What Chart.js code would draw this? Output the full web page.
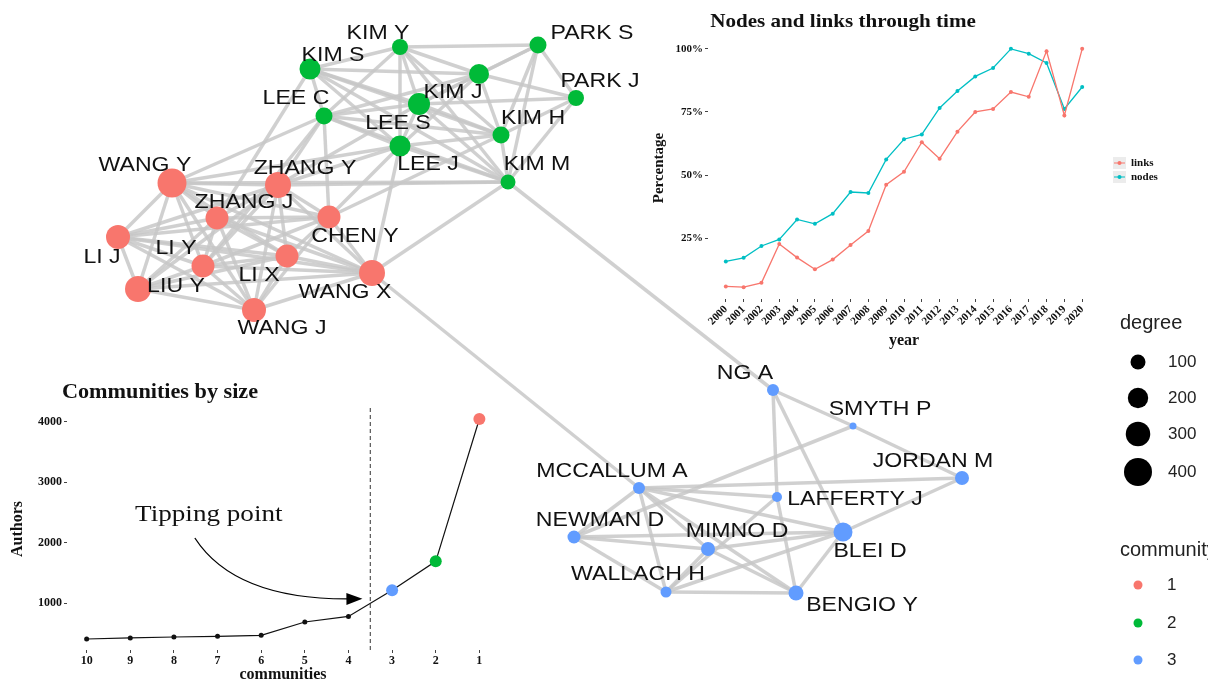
<!DOCTYPE html>
<html>
<head>
<meta charset="utf-8">
<script src="https://cdn.jsdelivr.net/npm/chart.js@4.4.0/dist/chart.umd.min.js"></script>
<style>
  body { margin: 0; background: #fff; }
  #wrap { position: relative; width: 1208px; height: 682px; overflow: hidden; }
  canvas { position: absolute; }
</style>
</head>
<body>
<div id="wrap">
  <canvas id="net" width="1208" height="682" style="left:0;top:0"></canvas>
  <canvas id="time" width="530" height="350" style="left:640px;top:0"></canvas>
  <canvas id="comm" width="505" height="314" style="left:0;top:370px"></canvas>
</div>
<script>
// --- réseau de co-auteurs (layout)
const nodeNames = ['KIM Y', 'PARK S', 'KIM S', 'KIM J', 'PARK J', 'LEE C', 'LEE S', 'KIM H', 'LEE J', 'KIM M',
  'WANG Y', 'ZHANG Y', 'ZHANG J', 'CHEN Y', 'LI J', 'LI X', 'LI Y', 'LIU Y', 'WANG X', 'WANG J',
  'NG A', 'SMYTH P', 'JORDAN M', 'MCCALLUM A', 'LAFFERTY J', 'NEWMAN D', 'MIMNO D', 'BLEI D', 'WALLACH H', 'BENGIO Y'];
const nodeX = [400, 538, 310, 479, 576, 324, 419, 501, 400, 508,
  172, 278, 217, 329, 118, 287, 203, 138, 372, 254,
  773, 853, 962, 639, 777, 574, 708, 843, 666, 796];
const nodeY = [47, 45, 69, 74, 98, 116, 104, 135, 146, 182,
  183, 185, 218, 217, 237, 256, 266, 289, 273, 310,
  390, 426, 478, 488, 497, 537, 549, 532, 592, 593];
const nodeDegree = [116, 133, 214, 192, 116, 133, 237, 133, 214, 100,
  430, 340, 260, 260, 286, 260, 260, 340, 340, 286,
  59, 15, 85, 59, 38, 72, 85, 171, 48, 100];
const nodeCommunity = [2, 2, 2, 2, 2, 2, 2, 2, 2, 2,
  1, 1, 1, 1, 1, 1, 1, 1, 1, 1,
  3, 3, 3, 3, 3, 3, 3, 3, 3, 3];

const edges = [
  // communauté 2
  ['KIM Y', 'PARK S'], ['KIM Y', 'KIM S'], ['KIM Y', 'KIM J'], ['KIM Y', 'LEE C'], ['KIM Y', 'LEE S'],
  ['KIM Y', 'KIM H'], ['KIM Y', 'LEE J'], ['KIM Y', 'KIM M'], ['PARK S', 'KIM J'], ['PARK S', 'PARK J'],
  ['PARK S', 'LEE S'], ['PARK S', 'KIM H'], ['PARK S', 'KIM M'], ['KIM S', 'KIM J'], ['KIM S', 'LEE C'],
  ['KIM S', 'LEE S'], ['KIM S', 'KIM H'], ['KIM S', 'LEE J'], ['KIM S', 'KIM M'], ['KIM J', 'PARK J'],
  ['KIM J', 'LEE S'], ['KIM J', 'KIM H'], ['KIM J', 'LEE J'], ['KIM J', 'LEE C'], ['PARK J', 'LEE S'],
  ['PARK J', 'KIM H'], ['PARK J', 'KIM M'], ['LEE C', 'LEE S'], ['LEE C', 'LEE J'], ['LEE C', 'KIM H'],
  ['LEE C', 'KIM M'], ['LEE S', 'KIM H'], ['LEE S', 'LEE J'], ['LEE S', 'KIM M'], ['KIM H', 'LEE J'],
  ['KIM H', 'KIM M'], ['LEE J', 'KIM M'],
  // communauté 1
  ['WANG Y', 'ZHANG Y'], ['WANG Y', 'ZHANG J'], ['WANG Y', 'CHEN Y'], ['WANG Y', 'LI J'], ['WANG Y', 'LI X'],
  ['WANG Y', 'LI Y'], ['WANG Y', 'LIU Y'], ['WANG Y', 'WANG X'], ['WANG Y', 'WANG J'],
  ['ZHANG Y', 'ZHANG J'], ['ZHANG Y', 'CHEN Y'], ['ZHANG Y', 'LI J'], ['ZHANG Y', 'LI X'], ['ZHANG Y', 'LI Y'],
  ['ZHANG Y', 'LIU Y'], ['ZHANG Y', 'WANG X'], ['ZHANG Y', 'WANG J'],
  ['ZHANG J', 'CHEN Y'], ['ZHANG J', 'LI J'], ['ZHANG J', 'LI X'], ['ZHANG J', 'LI Y'], ['ZHANG J', 'LIU Y'],
  ['ZHANG J', 'WANG X'], ['ZHANG J', 'WANG J'],
  ['CHEN Y', 'LI J'], ['CHEN Y', 'LI X'], ['CHEN Y', 'LI Y'], ['CHEN Y', 'WANG X'], ['CHEN Y', 'WANG J'],
  ['LI J', 'LI X'], ['LI J', 'LI Y'], ['LI J', 'LIU Y'], ['LI J', 'WANG X'], ['LI J', 'WANG J'],
  ['LI X', 'LI Y'], ['LI X', 'LIU Y'], ['LI X', 'WANG X'], ['LI X', 'WANG J'],
  ['LI Y', 'LIU Y'], ['LI Y', 'WANG X'], ['LI Y', 'WANG J'], ['LIU Y', 'WANG X'], ['LIU Y', 'WANG J'],
  ['WANG X', 'WANG J'],
  // liens 1-2
  ['WANG Y', 'LEE C'], ['WANG Y', 'KIM M'], ['WANG Y', 'LEE J'], ['ZHANG Y', 'LEE C'], ['ZHANG Y', 'LEE J'],
  ['ZHANG Y', 'KIM M'], ['ZHANG Y', 'LEE S'], ['CHEN Y', 'LEE J'], ['CHEN Y', 'LEE C'], ['CHEN Y', 'KIM H'],
  ['WANG X', 'KIM M'], ['WANG X', 'LEE J'], ['ZHANG J', 'KIM S'], ['LI Y', 'LEE C'],
  // communauté 3
  ['NG A', 'SMYTH P'], ['NG A', 'LAFFERTY J'], ['NG A', 'BLEI D'], ['SMYTH P', 'JORDAN M'], ['SMYTH P', 'NEWMAN D'],
  ['JORDAN M', 'BLEI D'], ['JORDAN M', 'MCCALLUM A'], ['MCCALLUM A', 'LAFFERTY J'], ['MCCALLUM A', 'BLEI D'],
  ['MCCALLUM A', 'NEWMAN D'], ['MCCALLUM A', 'WALLACH H'], ['MCCALLUM A', 'BENGIO Y'], ['MCCALLUM A', 'MIMNO D'],
  ['LAFFERTY J', 'BENGIO Y'], ['LAFFERTY J', 'WALLACH H'], ['NEWMAN D', 'BLEI D'], ['NEWMAN D', 'WALLACH H'],
  ['NEWMAN D', 'MIMNO D'], ['MIMNO D', 'BLEI D'], ['MIMNO D', 'BENGIO Y'], ['MIMNO D', 'WALLACH H'],
  ['WALLACH H', 'BLEI D'], ['WALLACH H', 'BENGIO Y'], ['BLEI D', 'BENGIO Y'],
  // ponts
  ['WANG X', 'MCCALLUM A'], ['KIM M', 'NG A']
];

// position des étiquettes par rapport au noeud
const labelDx = [-22, 54, 23, -26, 24, -28, -21, 32, 28, 29,
  -27, 27, 27, 26, -16, -28, -27, 38, -27, 28,
  -28, 27, -29, -27, 78, 26, 29, 27, -28, 66];
const labelDy = [-14, -12, -14, 18, -17, -18, 19, -17, 18, -18,
  -18, -17, -16, 19, 20, 19, -18, -3, 19, 18,
  -17, -17, -17, -17, 2, -17, -18, 19, -18, 12];

const communityColors = ['#F8766D', '#00BA38', '#619CFF'];
const degreeBreaks = [100, 200, 300, 400];
const communityLevels = [1, 2, 3];

// --- noeuds et liens dans le temps
const years = [2000, 2001, 2002, 2003, 2004, 2005, 2006, 2007, 2008, 2009, 2010,
  2011, 2012, 2013, 2014, 2015, 2016, 2017, 2018, 2019, 2020];
const linksPct = [5.9, 5.6, 7.3, 22.7, 17.3, 12.7, 16.5, 22.3, 27.8, 46.2, 51.3,
  63.0, 56.5, 67.2, 75.0, 76.2, 82.9, 81.0, 99.1, 73.6, 100];
const nodesPct = [15.8, 17.2, 21.9, 24.5, 32.4, 30.7, 34.7, 43.3, 42.9, 56.2, 64.2,
  66.1, 76.6, 83.3, 89.1, 92.4, 100, 98.1, 94.4, 76.2, 84.9];
const pctTicks = [25, 50, 75, 100];

// --- communautés par taille
const communityRank = [10, 9, 8, 7, 6, 5, 4, 3, 2, 1];
const communityAuthors = [408, 425, 441, 452, 468, 688, 781, 1214, 1690, 4041];
const authorTicks = [1000, 2000, 3000, 4000];
const tippingPoint = 3.5;

const serif = '"Liberation Serif", "Times New Roman", serif';
const sans = '"Liberation Sans", Arial, sans-serif';

function rayon(deg) {
  return 1 + 0.65 * Math.sqrt(deg);
}

function idx(name) {
  return nodeNames.indexOf(name);
}

// texte un peu étiré en largeur, comme sur l'original
function texteEtire(ctx, txt, x, y, sx) {
  ctx.save();
  ctx.translate(x, y);
  ctx.scale(sx, 1);
  ctx.fillText(txt, 0, 0);
  ctx.restore();
}

// ===================== réseau =====================
const edgeSets = edges.map(e => ({
  type: 'scatter',
  showLine: true,
  order: 1,
  data: [{ x: nodeX[idx(e[0])], y: nodeY[idx(e[0])] }, { x: nodeX[idx(e[1])], y: nodeY[idx(e[1])] }],
  borderColor: 'rgba(200,200,200,0.85)',
  borderWidth: 3.5,
  pointRadius: 0
}));

const nodeSet = {
  type: 'bubble',
  order: 0,
  data: nodeNames.map((n, i) => ({ x: nodeX[i], y: nodeY[i], r: rayon(nodeDegree[i]) })),
  backgroundColor: nodeCommunity.map(c => communityColors[c - 1]),
  borderWidth: 0
};

const labelsPlugin = {
  id: 'labels',
  afterDatasetsDraw(chart) {
    const ctx = chart.ctx;
    const sx = chart.scales.x, sy = chart.scales.y;
    ctx.save();
    ctx.fillStyle = '#111';
    ctx.font = '21px ' + sans;
    ctx.textAlign = 'center';
    ctx.textBaseline = 'middle';
    nodeNames.forEach((n, i) => {
      const px = sx.getPixelForValue(nodeX[i] + labelDx[i]);
      const py = sy.getPixelForValue(nodeY[i] + labelDy[i]);
      texteEtire(ctx, n, px, py, 1.1);
    });
    ctx.restore();
  },
  afterDraw(chart) {
    // légendes degree / community
    const ctx = chart.ctx;
    ctx.save();
    ctx.fillStyle = '#222';
    ctx.textBaseline = 'middle';
    ctx.textAlign = 'left';
    ctx.font = '20px ' + sans;
    ctx.fillText('degree', 1120, 323);
    const ly = [362, 398, 434, 472];
    degreeBreaks.forEach((d, i) => {
      ctx.fillStyle = '#000';
      ctx.beginPath();
      ctx.arc(1138, ly[i], rayon(d), 0, Math.PI * 2);
      ctx.fill();
      ctx.fillStyle = '#222';
      ctx.font = '17px ' + sans;
      ctx.fillText(String(d), 1168, ly[i]);
    });
    ctx.font = '20px ' + sans;
    ctx.fillText('community', 1120, 550);
    const cy = [585, 623, 660];
    communityLevels.forEach((c, i) => {
      ctx.fillStyle = communityColors[i];
      ctx.beginPath();
      ctx.arc(1138, cy[i], 4.5, 0, Math.PI * 2);
      ctx.fill();
      ctx.fillStyle = '#222';
      ctx.font = '17px ' + sans;
      ctx.fillText(String(c), 1167, cy[i]);
    });
    ctx.restore();
  }
};

new Chart(document.getElementById('net'), {
  type: 'bubble',
  data: { datasets: [nodeSet].concat(edgeSets) },
  options: {
    responsive: false,
    animation: false,
    devicePixelRatio: 1,
    layout: { autoPadding: false, padding: 0 },
    plugins: { legend: { display: false }, tooltip: { enabled: false } },
    scales: {
      x: { type: 'linear', min: 0, max: 1208, display: false },
      y: { type: 'linear', min: 0, max: 682, reverse: true, display: false }
    }
  },
  plugins: [labelsPlugin]
});

// ===================== noeuds et liens =====================
const timePlugin = {
  id: 'timeDeco',
  afterDraw(chart) {
    const ctx = chart.ctx;
    ctx.save();
    ctx.fillStyle = '#111';
    ctx.textAlign = 'center';
    ctx.textBaseline = 'middle';
    ctx.font = 'bold 19px ' + serif;
    texteEtire(ctx, 'Nodes and links through time', 203, 22, 1.11);
    // légende links / nodes
    const items = [['links', '#F8766D', 163], ['nodes', '#00BFC4', 177]];
    ctx.font = 'bold 11px ' + serif;
    ctx.textAlign = 'left';
    items.forEach(it => {
      ctx.fillStyle = '#ececec';
      ctx.fillRect(473, it[2] - 6, 13, 12);
      ctx.strokeStyle = it[1];
      ctx.lineWidth = 1;
      ctx.beginPath();
      ctx.moveTo(474, it[2]);
      ctx.lineTo(485, it[2]);
      ctx.stroke();
      ctx.fillStyle = it[1];
      ctx.beginPath();
      ctx.arc(479.5, it[2], 2, 0, Math.PI * 2);
      ctx.fill();
      ctx.fillStyle = '#111';
      ctx.fillText(it[0], 491, it[2]);
    });
    ctx.restore();
  }
};

new Chart(document.getElementById('time'), {
  type: 'scatter',
  data: {
    datasets: [
      { label: 'links', data: years.map((y, i) => ({ x: y, y: linksPct[i] })), showLine: true,
        borderColor: '#F8766D', backgroundColor: '#F8766D', borderWidth: 1.3, pointRadius: 2, pointBorderWidth: 0 },
      { label: 'nodes', data: years.map((y, i) => ({ x: y, y: nodesPct[i] })), showLine: true,
        borderColor: '#00BFC4', backgroundColor: '#00BFC4', borderWidth: 1.3, pointRadius: 2, pointBorderWidth: 0 }
    ]
  },
  options: {
    responsive: false,
    animation: false,
    devicePixelRatio: 1,
    layout: { autoPadding: false, padding: { top: 37, right: 70, left: 0, bottom: 0 } },
    plugins: { legend: { display: false }, tooltip: { enabled: false } },
    scales: {
      x: {
        type: 'linear', min: 1999, max: 2021,
        afterBuildTicks: s => { s.ticks = years.map(v => ({ value: v })); },
        afterFit: s => { s.height = 51; },
        grid: { drawOnChartArea: false, tickLength: 3, color: '#444' },
        border: { display: false },
        ticks: { autoSkip: false, minRotation: 45, maxRotation: 45, padding: 1, color: '#111',
          font: { family: serif, weight: 'bold', size: 11 }, callback: v => String(v) },
        title: { display: true, text: 'year', color: '#111', padding: 0,
          font: { family: serif, weight: 'bold', size: 16 } }
      },
      y: {
        type: 'linear', min: 0.9, max: 104.7,
        afterBuildTicks: s => { s.ticks = pctTicks.map(v => ({ value: v })); },
        afterFit: s => { s.width = 68; },
        grid: { drawOnChartArea: false, tickLength: 3, color: '#444' },
        border: { display: false },
        ticks: { padding: 2, color: '#111', font: { family: serif, weight: 'bold', size: 11 },
          callback: v => v + '%' },
        title: { display: true, text: 'Percentage', color: '#111', padding: { top: 10 },
          font: { family: serif, weight: 'bold', size: 15 } }
      }
    }
  },
  plugins: [timePlugin]
});

// ===================== communautés par taille =====================
const commPlugin = {
  id: 'commDeco',
  beforeDatasetsDraw(chart) {
    const ctx = chart.ctx;
    const a = chart.chartArea;
    const px = chart.scales.x.getPixelForValue(tippingPoint);
    ctx.save();
    ctx.strokeStyle = '#333';
    ctx.lineWidth = 1;
    ctx.setLineDash([4, 3]);
    ctx.beginPath();
    ctx.moveTo(px, a.top);
    ctx.lineTo(px, a.bottom);
    ctx.stroke();
    ctx.restore();
  },
  afterDatasetsDraw(chart) {
    const ctx = chart.ctx;
    const sx = chart.scales.x, sy = chart.scales.y;
    const p0 = [sx.getPixelForValue(7.52), sy.getPixelForValue(2076)];
    const c = [sx.getPixelForValue(6.6), sy.getPixelForValue(1054)];
    const p1 = [sx.getPixelForValue(3.68), sy.getPixelForValue(1071)];
    ctx.save();
    ctx.strokeStyle = '#000';
    ctx.fillStyle = '#000';
    ctx.lineWidth = 1.3;
    const ang = Math.atan2(p1[1] - c[1], p1[0] - c[0]);
    const back = [p1[0] - 12 * Math.cos(ang), p1[1] - 12 * Math.sin(ang)];
    ctx.beginPath();
    ctx.moveTo(p0[0], p0[1]);
    ctx.quadraticCurveTo(c[0], c[1], back[0], back[1]);
    ctx.stroke();
    ctx.beginPath();
    ctx.moveTo(p1[0], p1[1]);
    ctx.lineTo(p1[0] - 16 * Math.cos(ang) + 6 * Math.sin(ang), p1[1] - 16 * Math.sin(ang) - 6 * Math.cos(ang));
    ctx.lineTo(p1[0] - 16 * Math.cos(ang) - 6 * Math.sin(ang), p1[1] - 16 * Math.sin(ang) + 6 * Math.cos(ang));
    ctx.closePath();
    ctx.fill();
    ctx.font = '24px ' + serif;
    ctx.textAlign = 'center';
    ctx.textBaseline = 'middle';
    ctx.fillStyle = '#111';
    texteEtire(ctx, 'Tipping point', sx.getPixelForValue(7.2), sy.getPixelForValue(2455), 1.13);
    ctx.restore();
  },
  afterDraw(chart) {
    const ctx = chart.ctx;
    ctx.save();
    ctx.fillStyle = '#111';
    ctx.textAlign = 'center';
    ctx.textBaseline = 'middle';
    ctx.font = 'bold 20px ' + serif;
    texteEtire(ctx, 'Communities by size', 160, 23, 1.11);
    ctx.restore();
  }
};

new Chart(document.getElementById('comm'), {
  type: 'scatter',
  data: {
    datasets: [{
      data: communityRank.map((r, i) => ({ x: r, y: communityAuthors[i] })),
      showLine: true,
      borderColor: '#111',
      borderWidth: 1.2,
      pointBorderWidth: 0,
      pointRadius: ctx => communityRank[ctx.dataIndex] <= 3 ? 6 : 2.5,
      pointBackgroundColor: ctx => {
        const r = communityRank[ctx.dataIndex];
        return r <= 3 ? communityColors[r - 1] : '#111';
      }
    }]
  },
  options: {
    responsive: false,
    animation: false,
    devicePixelRatio: 1,
    layout: { autoPadding: false, padding: { top: 38, right: 6, left: 0, bottom: 0 } },
    plugins: { legend: { display: false }, tooltip: { enabled: false } },
    scales: {
      x: {
        type: 'linear', min: 0.55, max: 10.45, reverse: true,
        afterBuildTicks: s => { s.ticks = communityRank.map(v => ({ value: v })); },
        afterFit: s => { s.height = 34; },
        grid: { drawOnChartArea: false, tickLength: 3, color: '#444' },
        border: { display: false },
        ticks: { autoSkip: false, padding: 1, maxRotation: 0, color: '#111',
          font: { family: serif, weight: 'bold', size: 12 }, callback: v => String(v) },
        title: { display: true, text: 'communities', color: '#111', padding: 0,
          font: { family: serif, weight: 'bold', size: 16 } }
      },
      y: {
        type: 'linear', min: 226, max: 4223,
        afterBuildTicks: s => { s.ticks = authorTicks.map(v => ({ value: v })); },
        afterFit: s => { s.width = 67; },
        grid: { drawOnChartArea: false, tickLength: 3, color: '#444' },
        border: { display: false },
        ticks: { padding: 2, color: '#111', font: { family: serif, weight: 'bold', size: 12 },
          callback: v => String(v) },
        title: { display: true, text: 'Authors', color: '#111', padding: { top: 8 },
          font: { family: serif, weight: 'bold', size: 16 } }
      }
    }
  },
  plugins: [commPlugin]
});
</script>
</body>
</html>
